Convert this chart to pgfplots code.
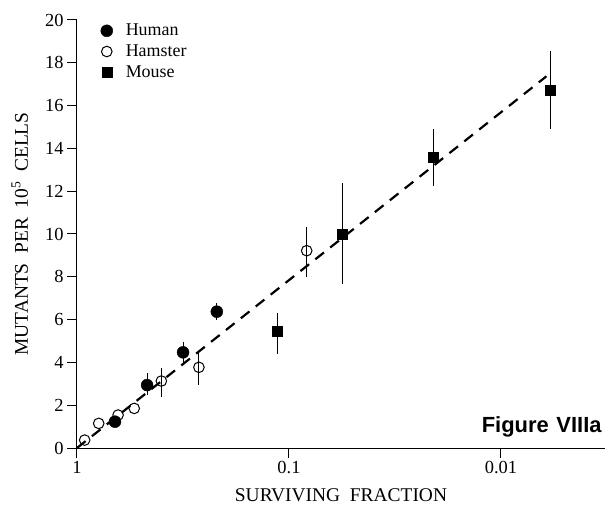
\documentclass[border=0pt]{standalone}
\usepackage{fontspec}
\setmainfont{Liberation Serif}
\newfontfamily\arialfont{Liberation Sans}
\usepackage{pgfplots}
\pgfplotsset{compat=1.18}

\begin{document}
\begin{tikzpicture}
\begin{axis}[
	name=ax,
	scale only axis,
	width=528bp, height=428bp,
	xmode=log, x dir=reverse,
	xmin=0.00323, xmax=1,
	ymin=0, ymax=20,
	axis x line*=bottom, axis y line*=left,
	axis line style={line width=1bp},
	tick align=outside,
	major tick length=10bp,
	tick style={black, line width=1bp},
	xminorticks=false,
	xtick={1,0.1,0.01}, xticklabels={1,0.1,0.01},
	ytick={0,2,...,20},
	/pgf/number format/assume math mode=true,
	tick label style={font=\fontsize{18.5}{18.5}\selectfont},
	xlabel={SURVIVING~~FRACTION},
	ylabel={MUTANTS~~PER~~10\textsuperscript{5}~~CELLS},
	label style={font=\fontsize{19.5}{19.5}\selectfont},
	xlabel style={at={(axis description cs:0.5,-0.126)}, anchor=base},
	ylabel style={at={(axis description cs:-0.093,0.5)}, anchor=base},
	legend cell align=left,
	legend style={draw=none, fill=none, at={(axis description cs:0.039,1.0)},
		anchor=north west, font=\fontsize{18}{18}\selectfont, row sep=3.5bp,
		column sep=11bp},
	error bars/y dir=both, error bars/y explicit,
	error bars/error mark=none,
	error bars/error bar style={black, line width=0.9bp},
]
% fitted line
\addplot[black, line width=2.2bp, dash pattern=on 11bp off 8bp, forget plot]
coordinates {(1,0) (0.0061,17.37)};

% Human
\addplot[only marks, mark=*, mark size=6bp, black]
coordinates {
(0.662,1.23) +- (0,0)
(0.467,2.94) += (0,0.55) -= (0,0.45)
(0.316,4.47) +- (0,0.5)
(0.219,6.37) += (0,0.39) -= (0,0.39)
};
\addlegendentry{Human}

% Hamster
\addplot[only marks, mark=o, mark size=5.3bp, black, mark options={fill=white, line width=1bp}]
coordinates {
(0.92,0.37) +- (0,0)
(0.79,1.15) +- (0,0)
(0.64,1.54) +- (0,0)
(0.537,1.85) +- (0,0)
(0.40,3.13) += (0,0.59) -= (0,0.76)
(0.266,3.77) += (0,0.65) -= (0,0.83)
(0.0825,9.22) += (0,1.09) -= (0,1.24)
};
\addlegendentry{Hamster}

% Mouse
\addplot[only marks, mark=square*, mark size=5bp, black]
coordinates {
(0.1135,5.47) += (0,0.82) -= (0,1.09)
(0.0558,9.98) += (0,2.39) -= (0,2.33)
(0.0209,13.58) += (0,1.31) -= (0,1.32)
(0.00583,16.74) += (0,1.83) -= (0,1.82)
};
\addlegendentry{Mouse}

\node[anchor=base west, font=\arialfont\bfseries\fontsize{22}{22}\selectfont]
	at (axis description cs:0.760,0.0355) {Figure\hspace{0.35em}VIIIa};
\end{axis}
\pgfresetboundingbox
\path[use as bounding box] ([shift={(-77bp,-57bp)}]ax.south west) rectangle ([shift={(0bp,20bp)}]ax.north east);
\end{tikzpicture}
\end{document}
